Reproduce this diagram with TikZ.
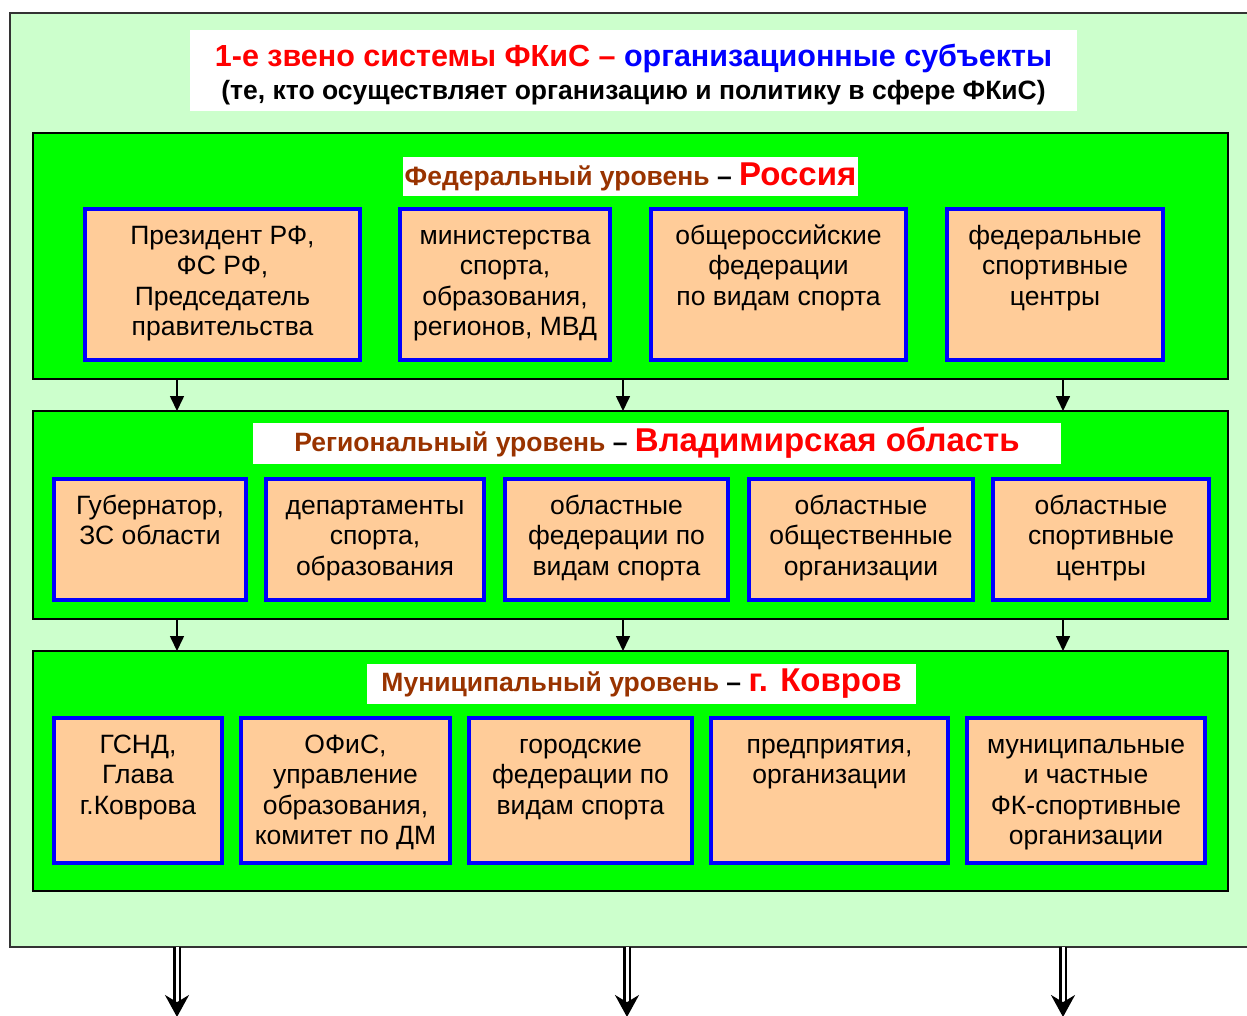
\documentclass[tikz,border=0pt]{standalone}
\usepackage{fontspec}
\setmainfont{Liberation Sans}
\usetikzlibrary{arrows.meta}
\definecolor{palegreen}{HTML}{CCFFCC}
\definecolor{levelgreen}{HTML}{00FF00}
\definecolor{peach}{HTML}{FFCC99}
\definecolor{brown}{HTML}{993300}
\tikzstyle{frame}=[draw=black!80, line width=2pt, fill=palegreen, outer sep=0pt, inner sep=0pt]
\tikzstyle{level}=[draw=black, line width=1.5pt, fill=levelgreen, outer sep=0pt, inner sep=0pt]
\tikzstyle{header}=[fill=white, inner sep=0pt, outer sep=0pt, font=\bfseries]
\tikzstyle{orgbox}=[draw=blue, line width=3.5pt, fill=peach, anchor=north west, outer sep=0pt, inner sep=0pt]
\tikzstyle{boxtext}=[anchor=north, align=center, inner sep=0pt, yshift=-14pt, font=\fontsize{26.5}{30.3}\selectfont]
\tikzstyle{flow}=[line width=1.6pt, -{Triangle[length=15pt,width=14pt]}]
\tikzstyle{bigflow}=[line width=2.2pt, double distance=3pt, -{Stealth[length=22pt,width=24pt]}]
\newcommand{\headtext}[2]{\fontsize{26.5}{30}\selectfont\textcolor{brown}{#1} – \textcolor{red}{\fontsize{33}{36}\selectfont #2}}

\begin{document}
\begin{tikzpicture}[x=1pt,y=-1pt]
    \useasboundingbox (0,0) rectangle (1247,1015);
    % outer frame and title
    \node[frame, anchor=north west, minimum width=1260pt, minimum height=934pt] (frame) at (10,13) {};
    \node[header, minimum width=887pt, minimum height=81pt] (titlebox) at (633.5,70.5) {};
    \node[header, fill=none, align=center] (title) at (titlebox.center) [yshift=-4pt]
        {\fontsize{30.5}{33}\selectfont\textcolor{red}{1-е звено системы ФКиС –} \textcolor{blue}{организационные субъекты}\\[6pt]
         \fontsize{26.5}{32}\selectfont (те, кто осуществляет организацию и политику в сфере ФКиС)};

    % federal level
    \node[level, anchor=north west, minimum width=1195pt, minimum height=246pt] (fed) at (33,133) {};
    \node[header, minimum width=455pt, minimum height=39pt] (fedhead) at (630.5,176.5) {\headtext{Федеральный уровень}{Россия}};
    \node[orgbox, minimum width=275pt, minimum height=151pt] (f1) at (85,209) {};
    \node[orgbox, minimum width=210pt, minimum height=151pt] (f2) at (400,209) {};
    \node[orgbox, minimum width=255pt, minimum height=151pt] (f3) at (651,209) {};
    \node[orgbox, minimum width=216pt, minimum height=151pt] (f4) at (947,209) {};
    \node[boxtext] (f1t) at (f1.north) {\strut Президент РФ,\\ФС РФ,\\Председатель\\правительства};
    \node[boxtext] (f2t) at (f2.north) {\strut министерства\\спорта,\\образования,\\регионов, МВД};
    \node[boxtext] (f3t) at (f3.north) {\strut общероссийские\\федерации\\по видам спорта};
    \node[boxtext] (f4t) at (f4.north) {\strut федеральные\\спортивные\\центры};

    % regional level
    \node[level, anchor=north west, minimum width=1195pt, minimum height=208pt] (reg) at (33,411) {};
    \node[header, minimum width=808pt, minimum height=41pt] (reghead) at (657,443) {\headtext{Региональный уровень}{Владимирская область}};
    \node[orgbox, minimum width=192pt, minimum height=121pt] (r1) at (54,479) {};
    \node[orgbox, minimum width=218pt, minimum height=121pt] (r2) at (266,479) {};
    \node[orgbox, minimum width=223pt, minimum height=121pt] (r3) at (505,479) {};
    \node[orgbox, minimum width=224pt, minimum height=121pt] (r4) at (749,479) {};
    \node[orgbox, minimum width=216pt, minimum height=121pt] (r5) at (993,479) {};
    \node[boxtext] (r1t) at (r1.north) {\strut Губернатор,\\ЗС области};
    \node[boxtext] (r2t) at (r2.north) {\strut департаменты\\спорта,\\образования};
    \node[boxtext] (r3t) at (r3.north) {\strut областные\\федерации по\\видам спорта};
    \node[boxtext] (r4t) at (r4.north) {\strut областные\\общественные\\организации};
    \node[boxtext] (r5t) at (r5.north) {\strut областные\\спортивные\\центры};

    % municipal level
    \node[level, anchor=north west, minimum width=1195pt, minimum height=240pt] (mun) at (33,651) {};
    \node[header, minimum width=549pt, minimum height=40pt] (munhead) at (641.5,684) {\headtext{Муниципальный уровень}{г. Ковров}};
    \node[orgbox, minimum width=168pt, minimum height=145pt] (m1) at (54,718) {};
    \node[orgbox, minimum width=209pt, minimum height=145pt] (m2) at (241,718) {};
    \node[orgbox, minimum width=223pt, minimum height=145pt] (m3) at (469,718) {};
    \node[orgbox, minimum width=237pt, minimum height=145pt] (m4) at (711,718) {};
    \node[orgbox, minimum width=238pt, minimum height=145pt] (m5) at (967,718) {};
    \node[boxtext] (m1t) at (m1.north) {\strut ГСНД,\\Глава\\г.Коврова};
    \node[boxtext] (m2t) at (m2.north) {\strut ОФиС,\\управление\\образования,\\комитет по ДМ};
    \node[boxtext] (m3t) at (m3.north) {\strut городские\\федерации по\\видам спорта};
    \node[boxtext] (m4t) at (m4.north) {\strut предприятия,\\организации};
    \node[boxtext] (m5t) at (m5.north) {\strut муниципальные\\и частные\\ФК-спортивные\\организации};

    % arrows between levels
    \foreach \x in {177,623,1063} {
        \draw[flow] (fed.south -| \x,0) -- (reg.north -| \x,0);
        \draw[flow] (reg.south -| \x,0) -- (mun.north -| \x,0);
    }
    % arrows out of the frame
    \foreach \x in {177,627,1063}
        \draw[bigflow] (frame.south -| \x,0) -- (\x,1017);
\end{tikzpicture}
\end{document}
